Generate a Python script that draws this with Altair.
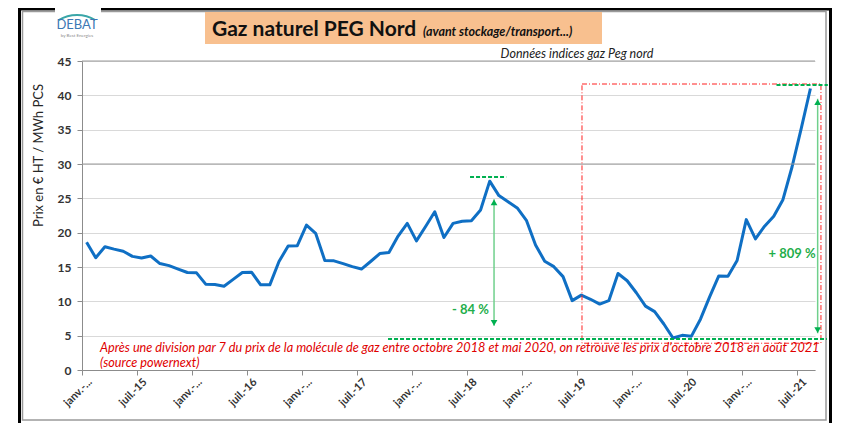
import json
import math
import altair as alt
import pandas as pd

# ---------------- data ----------------
prices = [
    18.6, 16.35, 17.95, 17.6, 17.3, 16.55, 16.3, 16.6, 15.5, 15.2, 14.7, 14.2,
    14.15, 12.5, 12.45, 12.2, 13.2, 14.2, 14.25, 12.4, 12.4, 15.8, 18.05, 18.1,
    21.1, 19.9, 15.95, 15.9, 15.5, 15.05, 14.7, 15.8, 16.95, 17.1, 19.5, 21.35,
    18.8, 20.9, 23.05, 19.3, 21.35, 21.65, 21.75, 23.3, 27.5, 25.4, 24.5, 23.6,
    21.8, 18.2, 15.85, 15.05, 13.6, 10.1, 10.9, 10.3, 9.6, 10.1, 14.05, 13.0,
    11.25, 9.3, 8.5, 6.7, 4.66, 5.05, 4.9, 7.4, 10.65, 13.7, 13.65, 15.95,
    21.9, 19.1, 20.95, 22.4, 24.8, 29.6, 35.2, 41.0,
]
tick_labels = [
    "janv.-...", "juil.-15", "janv.-...", "juil.-16", "janv.-...", "juil.-17",
    "janv.-...", "juil.-18", "janv.-...", "juil.-19", "janv.-...", "juil.-20",
    "janv.-...", "juil.-21",
]
y_ticks = [0, 5, 10, 15, 20, 25, 30, 35, 40, 45]
dark_grid = [30, 45]

title_main = "Gaz naturel PEG Nord"
title_sub = "(avant stockage/transport...)"
source_note = "Données indices gaz Peg nord"
y_title = "Prix en € HT / MWh PCS"
note_line1 = ("Après une division par 7 du prix de la molécule de gaz entre octobre 2018 "
              "et mai 2020, on retrouve les prix d'octobre 2018 en août 2021")
note_line2 = "(source powernext)"
drop_label = "- 84 %"
rise_label = "+ 809 %"
logo_name = "DEBAT"
logo_sub = "by Best Energies"

# ---------------- build ----------------
FONT = "Lato"
BLUE = "#0f6fc4"
GREEN = "#00b050"
RED = "#e00000"

n = len(prices)
df = pd.DataFrame({"pos": [i + 0.5 for i in range(n)], "price": prices})

xs = alt.Scale(domain=[0, n], nice=False, zero=False)
ys = alt.Scale(domain=[0, 45], nice=False, zero=False)

label_expr = "[" + ",".join(json.dumps(t) for t in tick_labels) + "][round(datum.value/6)]"

x_axis = alt.Axis(
    values=list(range(0, n, 6)), labelExpr=label_expr, labelAngle=-45, labelAlign="right",
    labelBaseline="middle", labelOffset=8, labelPadding=5, labelFont=FONT, labelFontSize=11,
    labelFontWeight="bold", labelColor="#333333", labelOverlap=False, labelBound=False,
    labelFlush=False, tickSize=5, tickColor="#8c8c8c", domainColor="#8c8c8c", grid=False,
    title=None)
y_axis = alt.Axis(
    values=y_ticks, grid=True, gridColor="#d9d9d9", gridWidth=1, labelFont=FONT,
    labelFontSize=12, labelFontWeight="bold", labelColor="#333333", labelPadding=6,
    tickSize=5, tickColor="#8c8c8c", domainColor="#8c8c8c", title=y_title,
    titleFont=FONT, titleFontSize=13, titleFontWeight="normal", titleColor="#262626",
    titleAngle=270, titleX=-44, titleY=94, titleAlign="center", titleBaseline="middle")

one = pd.DataFrame({"a": [0]})


def X(field):
    return alt.X(field, type="quantitative", scale=xs, axis=x_axis)


def Y(field):
    return alt.Y(field, type="quantitative", scale=ys, axis=y_axis)


# frame + decorations (pixel positions relative to plot area)
outer = alt.Chart(one).mark_rect(fillOpacity=0, stroke="black", strokeWidth=3).encode(
    x=alt.value(-62.5), x2=alt.value(748.5), y=alt.value(-52), y2=alt.value(380))
inner = alt.Chart(one).mark_rect(fillOpacity=0, stroke="#9a9a9a", strokeWidth=1.5).encode(
    x=alt.value(-59.5), x2=alt.value(744), y=alt.value(-49.5), y2=alt.value(359))
logo_bg = alt.Chart(one).mark_rect(fill="white").encode(
    x=alt.value(-27), x2=alt.value(19), y=alt.value(-56), y2=alt.value(-22))
logo_arc = alt.Chart(one).mark_arc(theta=2 * math.pi - 0.55, theta2=2 * math.pi + 0.55,
                                   radius=36, radius2=34, color="#3aa6a8").encode(
    x=alt.value(-5), y=alt.value(-11))
logo_txt = alt.Chart(one).mark_text(text=logo_name, font=FONT, fontSize=13, color="#3c78b4",
                                    align="center", baseline="alphabetic").encode(
    x=alt.value(-5), y=alt.value(-32))
logo_txt2 = alt.Chart(one).mark_text(text=logo_sub, font=FONT, fontSize=4.5, color="#8a8a8a",
                                     align="center", baseline="alphabetic").encode(
    x=alt.value(-5), y=alt.value(-24.5))
title_box = alt.Chart(one).mark_rect(fill="#f8c08f").encode(
    x=alt.value(123), x2=alt.value(520), y=alt.value(-49), y2=alt.value(-17))
title_txt = alt.Chart(one).mark_text(text=title_main, font=FONT, fontSize=21, fontWeight="bold",
                                     color="#111111", align="left", baseline="alphabetic").encode(
    x=alt.value(130), y=alt.value(-25))
title_txt2 = alt.Chart(one).mark_text(text=title_sub, font=FONT, fontSize=12.5, fontWeight="bold",
                                      fontStyle="italic", color="#111111", align="left",
                                      baseline="alphabetic").encode(
    x=alt.value(341), y=alt.value(-25))
src_txt = alt.Chart(one).mark_text(text=source_note, font=FONT, fontSize=12.5, fontStyle="italic",
                                   color="#222222", align="center", baseline="alphabetic").encode(
    x=alt.value(495), y=alt.value(-3))

# darker grid lines
dark = alt.Chart(pd.DataFrame({"v": dark_grid})).mark_rule(color="#9a9a9a", strokeWidth=1).encode(
    y=Y("v"))

# red dash-dot rectangle
red_rect = alt.Chart(pd.DataFrame({"x1": [54.57], "x2": [80.65], "y1": [41.65], "y2": [3.9]})).mark_rect(
    fillOpacity=0, stroke="#ff2020", strokeWidth=1, strokeDash=[5, 2, 1, 2]).encode(
    x=X("x1"), x2="x2", y=Y("y1"), y2="y2")

# green dashed levels
dashes = alt.Chart(pd.DataFrame({
    "x1": [42.35, 33.4, 75.8],
    "x2": [46.3, 81.3, 81.4],
    "v": [28.1, 4.5, 41.5],
})).mark_rule(color=GREEN, strokeWidth=2, strokeDash=[4, 2]).encode(
    x=X("x1"), x2="x2", y=Y("v"))

# arrows
shafts = alt.Chart(pd.DataFrame({
    "x": [44.97, 80.29], "y1": [24.86, 39.5], "y2": [6.45, 5.35],
})).mark_rule(color="#6fd08c", strokeWidth=1.5).encode(x=X("x"), y=Y("y1"), y2="y2")
heads_up = alt.Chart(pd.DataFrame({"x": [44.97, 80.29], "y": [24.4, 39.0]})).mark_point(
    shape="triangle-up", filled=True, size=45, color=GREEN, opacity=1).encode(x=X("x"), y=Y("y"))
heads_dn = alt.Chart(pd.DataFrame({"x": [44.97, 80.29], "y": [6.85, 5.8]})).mark_point(
    shape="triangle-down", filled=True, size=45, color=GREEN, opacity=1).encode(x=X("x"), y=Y("y"))

pct = alt.Chart(pd.DataFrame({"x": [42.4, 77.5], "y": [8.7, 16.9], "t": [drop_label, rise_label]})).mark_text(
    font=FONT, fontSize=13, fontWeight="bold", color="#1fae4b", align="center", baseline="middle").encode(
    x=X("x"), y=Y("y"), text="t:N")

notes = alt.Chart(pd.DataFrame({"x": [1.96, 1.96], "y": [3.2, 1.0], "t": [note_line1, note_line2]})).mark_text(
    font=FONT, fontSize=12.7, fontStyle="italic", color=RED, align="left", baseline="middle").encode(
    x=X("x"), y=Y("y"), text="t:N")

# main line
line = alt.Chart(df).mark_line(color=BLUE, strokeWidth=3, strokeJoin="round").encode(
    x=X("pos"), y=Y("price"))

chart = alt.layer(
    outer, inner, logo_bg, logo_arc, logo_txt, logo_txt2, title_box, title_txt, title_txt2, src_txt,
    line, dark, red_rect, dashes, shafts, heads_up, heads_dn, pct, notes,
).properties(
    width=733, height=309, autosize="none",
    padding={"left": 74, "top": 53, "right": 20, "bottom": 53},
    background="white",
).configure_view(stroke=None)

chart.save("out.html", embed_options={"renderer": "svg", "actions": False})
